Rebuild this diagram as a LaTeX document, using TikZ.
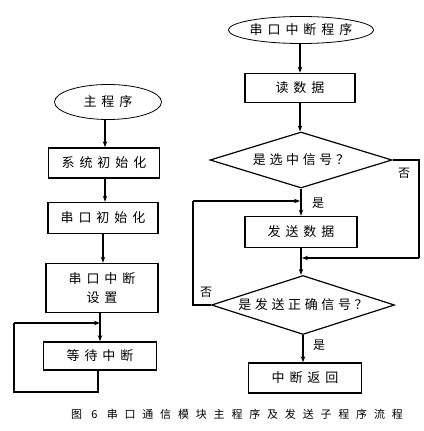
\documentclass[tikz,border=0pt]{standalone}
\usepackage{fontspec}
\newfontfamily\cjk[LetterSpace=38]{Noto Sans CJK SC}
\newfontfamily\cjkd[LetterSpace=28]{Noto Sans CJK SC}
\newfontfamily\cjkcap[LetterSpace=62]{Noto Sans CJK SC}
\usetikzlibrary{shapes.geometric,arrows.meta}
\begin{document}
\begin{tikzpicture}[x=1pt,y=-1pt,
  box/.style={draw,line width=1.6pt,rectangle,inner sep=0pt,font=\cjk\fontsize{13}{19}\selectfont,align=center},
  oval/.style={draw,line width=0.8pt,ellipse,inner sep=0pt,font=\cjk\fontsize{13}{19}\selectfont},
  dia/.style={draw,line width=1.2pt,diamond,inner sep=0pt,aspect=3.2},
  dtext/.style={font=\cjkd\fontsize{13}{19}\selectfont,inner sep=0pt},
  lab/.style={font=\cjk\fontsize{12}{14}\selectfont,inner sep=0pt},
  arr/.style={line width=1.3pt,-{Stealth[length=6pt,width=4.5pt]}},
  ln/.style={line width=1.3pt}]
\useasboundingbox (0,0) rectangle (423,431);
% left column
\node[oval,minimum width=107pt,minimum height=35pt] (e1) at (108,102) {主程序};
\node[box,minimum width=111pt,minimum height=30pt] (b1) at (104,163) {系统初始化};
\node[box,minimum width=110pt,minimum height=31pt] (b2) at (103,218) {串口初始化};
\node[box,minimum width=112pt,minimum height=49pt] (b3) at (102,288) {串口中断\\设置};
\node[box,minimum width=113pt,minimum height=28pt] (b4) at (100,356) {等待中断};
\coordinate (t1) at (105,0);
\coordinate (t2) at (103,0);
\coordinate (t3) at (100,0);
\coordinate (t4) at (98,0);
\draw[arr] (t1 |- e1.south) -- (t1 |- b1.north);
\draw[arr] (t1 |- b1.south) -- (t1 |- b2.north);
\draw[arr] (t2 |- b2.south) -- (t2 |- b3.north);
\draw[arr] (t3 |- b3.south) -- (t3 |- b4.north);
\coordinate (lj) at (100,323);
\coordinate (lb) at (98,392);
\coordinate (ll) at (14,392);
\coordinate (lt) at (14,323);
\draw[ln] (t4 |- b4.south) -- (lb) -- (ll) -- (lt);
\draw[arr] (lt) -- (lj);
% right column
\node[oval,minimum width=138pt,minimum height=27pt] (e2) at (301,30) {串口中断程序};
\node[box,minimum width=110pt,minimum height=29pt] (r1) at (300,88) {读数据};
\node[dia,minimum width=182pt,minimum height=56pt] (d1) at (301,160) {};
\node[dtext] (d1t) at (d1.center) {是选中信号？};
\node[box,minimum width=112pt,minimum height=31pt] (r2) at (301,232) {发送数据};
\node[dia,minimum width=183pt,minimum height=59pt] (d2) at (303,305) {};
\node[dtext] (d2t) at (d2.center) {是发送正确信号？};
\node[box,minimum width=113pt,minimum height=30pt] (r3) at (305,378) {中断返回};
\coordinate (s1) at (300,0);
\coordinate (s2) at (301,0);
\coordinate (s3) at (303,0);
\draw[arr] (s1 |- e2.south) -- (s1 |- r1.north);
\draw[arr] (s1 |- r1.south) -- (s1 |- d1.north);
\draw[arr] (s2 |- d1.south) -- (s2 |- r2.north);
\draw[arr] (s2 |- r2.south) -- (s2 |- d2.north);
\draw[arr] (s3 |- d2.south) -- (s3 |- r3.north);
% right loop (no)
\coordinate (ra) at (419,160);
\coordinate (rb) at (419,258);
\coordinate (rj) at (302,258);
\draw[ln] (d1.east) -- (ra) -- (rb);
\draw[arr] (rb) -- (rj);
% left loop (no)
\coordinate (la) at (193,305);
\coordinate (lc) at (193,201);
\coordinate (lk) at (300,201);
\draw[ln] (d2.west) -- (la) -- (lc);
\draw[arr] (lc) -- (lk);
% labels
\node[lab] (n1) at (404,173) {否};
\node[lab] (y1) at (318,203) {是};
\node[lab] (n2) at (206,292) {否};
\node[lab] (y2) at (319,345) {是};
% caption
\node[font=\cjkcap\fontsize{11}{13}\selectfont,inner sep=0pt] (cap) at (237,414) {图 6 串口通信模块主程序及发送子程序流程};
\end{tikzpicture}
\end{document}
